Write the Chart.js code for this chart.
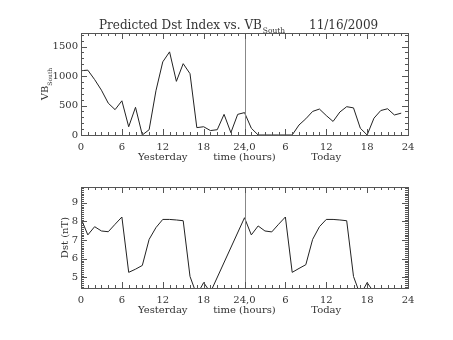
<!DOCTYPE html>
<html>
<head>
<meta charset="utf-8">
<script src="https://cdn.jsdelivr.net/npm/chart.js@4"></script>
<style>
  body { margin: 0; background: #fff; }
  #wrap { position: relative; width: 453px; height: 340px; }
  canvas { position: absolute; left: 0; }
  #c1 { top: 0; }
  #c2 { top: 170px; }
</style>
</head>
<body>
<div id="wrap">
  <canvas id="c1" width="453" height="170"></canvas>
  <canvas id="c2" width="453" height="170"></canvas>
</div>
<script>
// DATA
const hours = [0,1,2,3,4,5,6,7,8,9,10,11,12,13,14,15,16,17,18,19,20,21,22,23,
               24,25,26,27,28,29,30,31,32,33,34,35,36,37,38,39,40,41,42,43,44,45,46,47];
const vbSouth = [1090,1100,940,760,540,430,580,140,470,0,90,750,1240,1410,910,1210,1040,125,140,75,90,350,40,350,
                 380,115,0,0,0,0,0,0,170,275,400,440,330,230,390,480,460,115,0,285,415,445,340,370];
const dst = [8.16,7.28,7.72,7.49,7.45,7.85,8.24,5.27,5.44,5.64,7.04,7.67,8.11,8.11,8.08,8.04,5.05,4.05,4.72,4.2,null,null,null,null,
             8.2,7.28,7.76,7.49,7.44,7.85,8.24,5.27,5.48,5.68,7.04,7.72,8.11,8.11,8.08,8.04,5.05,4.05,4.72,4.2,null,null,null,null];
const xTicks = [0,6,12,18,24,30,36,42,48];
const xTickLabels = ['0','6','12','18','24,0','6','12','18','24'];
const vbTicks = [0,500,1000,1500];
const dstTicks = [5,6,7,8,9];
const dayLabels = [[12,'Yesterday'],[24,'time (hours)'],[36,'Today']];

const FONT = "'DejaVu Serif', serif";
const TXT = '#333', FRAME = '#555', VLINE = '#888', LINE = '#222';

// frame, inward ticks, midnight line and axis titles
function idlPlugin(cfg) {
  return {
    id: 'idl',
    afterDraw(chart) {
      const ctx = chart.ctx;
      const { left, right, top, bottom } = chart.chartArea;
      const xs = chart.scales.x, ys = chart.scales.y;
      const px = v => Math.round(v) + 0.5;
      ctx.save();
      ctx.lineWidth = 1;
      // midnight line
      ctx.strokeStyle = VLINE;
      ctx.beginPath();
      ctx.moveTo(px(xs.getPixelForValue(24)), top);
      ctx.lineTo(px(xs.getPixelForValue(24)), bottom);
      ctx.stroke();
      // box
      ctx.strokeStyle = FRAME;
      ctx.strokeRect(px(left), px(top), Math.round(right) - Math.round(left), Math.round(bottom) - Math.round(top));
      ctx.beginPath();
      for (let h = 0; h <= 48; h++) {
        const len = h % 6 === 0 ? 6 : 3;
        const x = px(xs.getPixelForValue(h));
        ctx.moveTo(x, bottom); ctx.lineTo(x, bottom - len);
        ctx.moveTo(x, top); ctx.lineTo(x, top + len);
      }
      const i0 = Math.ceil(ys.min / cfg.yMinor - 1e-6), i1 = Math.floor(ys.max / cfg.yMinor + 1e-6);
      for (let i = i0; i <= i1; i++) {
        const v = i * cfg.yMinor;
        const r = v / cfg.yMajor;
        const len = Math.abs(r - Math.round(r)) < 1e-6 ? 6 : 3;
        const y = px(ys.getPixelForValue(v));
        ctx.moveTo(left, y); ctx.lineTo(left + len, y);
        ctx.moveTo(right, y); ctx.lineTo(right - len, y);
      }
      ctx.stroke();
      // labels under the x axis
      ctx.fillStyle = TXT;
      ctx.font = '10px ' + FONT;
      ctx.textAlign = 'center';
      ctx.textBaseline = 'middle';
      dayLabels.forEach(([h, t]) => ctx.fillText(t, xs.getPixelForValue(h), bottom + 22));
      // y title
      ctx.translate(cfg.yTitleX, (top + bottom) / 2);
      ctx.rotate(-Math.PI / 2);
      ctx.textBaseline = 'alphabetic';
      ctx.textAlign = 'left';
      ctx.font = '10px ' + FONT;
      const w1 = ctx.measureText(cfg.yTitle).width;
      ctx.font = '6px ' + FONT;
      const w2 = cfg.ySub ? ctx.measureText(cfg.ySub).width : 0;
      const x0 = -(w1 + w2) / 2;
      ctx.font = '10px ' + FONT;
      ctx.fillText(cfg.yTitle, x0, 0);
      if (cfg.ySub) {
        ctx.font = '6px ' + FONT;
        ctx.fillText(cfg.ySub, x0 + w1, 4);
      }
      ctx.restore();
      if (cfg.title) {
        ctx.save();
        ctx.fillStyle = TXT;
        ctx.textBaseline = 'alphabetic';
        ctx.font = '12px ' + FONT;
        ctx.fillText('Predicted Dst Index vs. VB', 99, 29);
        const w = ctx.measureText('Predicted Dst Index vs. VB').width;
        ctx.font = '7.5px ' + FONT;
        ctx.fillText('South', 99 + w + 1, 33);
        ctx.font = '12px ' + FONT;
        ctx.fillText('11/16/2009', 309, 29);
        ctx.restore();
      }
    }
  };
}

function makeChart(id, values, yMin, yMax, yTicks, pad, xH, cfg) {
  return new Chart(document.getElementById(id), {
    type: 'line',
    data: {
      datasets: [{
        data: hours.map((h, i) => ({ x: h, y: values[i] })),
        borderColor: LINE,
        borderWidth: 1,
        pointRadius: 0,
        tension: 0,
        spanGaps: true,
        fill: false
      }]
    },
    options: {
      responsive: false,
      animation: false,
      layout: { padding: pad },
      plugins: { legend: { display: false }, tooltip: { enabled: false }, title: { display: false } },
      scales: {
        x: {
          type: 'linear', min: 0, max: 48,
          grid: { display: false, drawTicks: false },
          border: { display: false },
          afterFit: s => { s.height = xH; },
          afterBuildTicks: s => { s.ticks = xTicks.map(v => ({ value: v })); },
          ticks: {
            autoSkip: false, maxRotation: 0, padding: 6,
            color: TXT, font: { family: FONT, size: 10 },
            callback: v => xTickLabels[xTicks.indexOf(v)]
          }
        },
        y: {
          min: yMin, max: yMax,
          grid: { display: false, drawTicks: false },
          border: { display: false },
          afterFit: s => { s.width = 81; },
          afterBuildTicks: s => { s.ticks = yTicks.map(v => ({ value: v })); },
          ticks: {
            padding: 3, autoSkip: false,
            color: TXT, font: { family: FONT, size: 10 },
            callback: v => String(v)
          }
        }
      }
    },
    plugins: [idlPlugin(cfg)]
  });
}

makeChart('c1', vbSouth, 0, 1730, vbTicks, { left: 0, right: 45, top: 33, bottom: 0 }, 35,
  { yMinor: 100, yMajor: 500, yTitle: 'VB', ySub: 'South', yTitleX: 48, title: true });
makeChart('c2', dst, 4.43, 9.85, dstTicks, { left: 0, right: 45, top: 17, bottom: 0 }, 52,
  { yMinor: 0.1, yMajor: 1, yTitle: 'Dst (nT)', ySub: '', yTitleX: 68, title: false });
</script>
</body>
</html>
